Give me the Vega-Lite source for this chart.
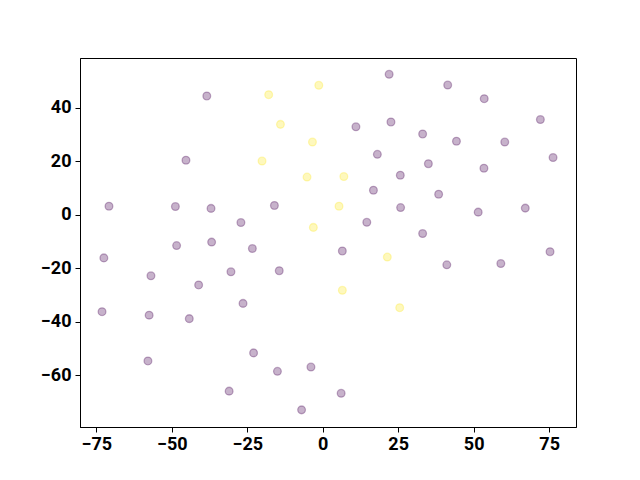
{
  "$schema": "https://vega.github.io/schema/vega-lite/v6.json",
  "width": 496,
  "height": 369,
  "autosize": {"type": "none"},
  "padding": {"left": 80, "top": 58, "right": 64, "bottom": 53},
  "background": "white",
  "config": {"view": {"stroke": "black", "strokeWidth": 1}},
  "data": {"values": [
    {"x": -17.9, "y": 44.9, "c": 1},
    {"x": -1.3, "y": 48.4, "c": 1},
    {"x": -14.0, "y": 33.8, "c": 1},
    {"x": -3.4, "y": 27.2, "c": 1},
    {"x": -20.1, "y": 20.1, "c": 1},
    {"x": -5.2, "y": 14.1, "c": 1},
    {"x": -3.1, "y": -4.7, "c": 1},
    {"x": 7.0, "y": 14.3, "c": 1},
    {"x": 5.4, "y": 3.2, "c": 1},
    {"x": 21.4, "y": -15.8, "c": 1},
    {"x": 6.5, "y": -28.2, "c": 1},
    {"x": 25.5, "y": -34.7, "c": 1},
    {"x": -38.4, "y": 44.4, "c": 0},
    {"x": -45.3, "y": 20.4, "c": 0},
    {"x": -70.8, "y": 3.2, "c": 0},
    {"x": -48.8, "y": 3.1, "c": 0},
    {"x": -37.0, "y": 2.4, "c": 0},
    {"x": -16.0, "y": 3.5, "c": 0},
    {"x": -27.1, "y": -2.9, "c": 0},
    {"x": 22.0, "y": 52.5, "c": 0},
    {"x": 41.4, "y": 48.5, "c": 0},
    {"x": 53.5, "y": 43.4, "c": 0},
    {"x": 72.1, "y": 35.6, "c": 0},
    {"x": 11.0, "y": 32.9, "c": 0},
    {"x": 22.6, "y": 34.7, "c": 0},
    {"x": 33.1, "y": 30.2, "c": 0},
    {"x": 44.3, "y": 27.5, "c": 0},
    {"x": 60.3, "y": 27.2, "c": 0},
    {"x": 18.1, "y": 22.6, "c": 0},
    {"x": 35.0, "y": 19.1, "c": 0},
    {"x": 53.4, "y": 17.4, "c": 0},
    {"x": 76.3, "y": 21.4, "c": 0},
    {"x": 25.7, "y": 14.8, "c": 0},
    {"x": 16.8, "y": 9.2, "c": 0},
    {"x": 38.4, "y": 7.7, "c": 0},
    {"x": 25.8, "y": 2.7, "c": 0},
    {"x": 14.6, "y": -2.8, "c": 0},
    {"x": 33.1, "y": -7.0, "c": 0},
    {"x": 51.5, "y": 1.0, "c": 0},
    {"x": 67.1, "y": 2.5, "c": 0},
    {"x": -48.4, "y": -11.5, "c": 0},
    {"x": -36.8, "y": -10.2, "c": 0},
    {"x": -23.3, "y": -12.6, "c": 0},
    {"x": -72.5, "y": -16.1, "c": 0},
    {"x": -56.9, "y": -22.8, "c": 0},
    {"x": -30.4, "y": -21.3, "c": 0},
    {"x": -14.4, "y": -20.9, "c": 0},
    {"x": -41.1, "y": -26.2, "c": 0},
    {"x": -26.4, "y": -33.1, "c": 0},
    {"x": -73.1, "y": -36.2, "c": 0},
    {"x": -57.5, "y": -37.5, "c": 0},
    {"x": -44.2, "y": -38.8, "c": 0},
    {"x": -22.9, "y": -51.6, "c": 0},
    {"x": -57.9, "y": -54.6, "c": 0},
    {"x": -15.0, "y": -58.5, "c": 0},
    {"x": -3.9, "y": -56.9, "c": 0},
    {"x": -31.0, "y": -65.9, "c": 0},
    {"x": -7.0, "y": -72.9, "c": 0},
    {"x": 6.5, "y": -13.5, "c": 0},
    {"x": 41.1, "y": -18.7, "c": 0},
    {"x": 59.0, "y": -18.2, "c": 0},
    {"x": 75.3, "y": -13.8, "c": 0},
    {"x": 6.1, "y": -66.7, "c": 0}
  ]},
  "mark": {"type": "point", "shape": "circle", "filled": false, "size": 60, "strokeWidth": 1.3, "fillOpacity": 0.3, "strokeOpacity": 0.3},
  "encoding": {
    "x": {"field": "x", "type": "quantitative",
      "scale": {"domain": [-80.4, 83.9], "nice": false, "zero": false},
      "axis": {"values": [-75, -50, -25, 0, 25, 50, 75], "title": null, "grid": false,
        "domainColor": "black", "tickColor": "black", "tickSize": 5, "labelFont": "Roboto",
        "labelFontWeight": "bold", "labelFontSize": 18, "labelColor": "black", "labelPadding": 3}},
    "y": {"field": "y", "type": "quantitative",
      "scale": {"domain": [-79.3, 58.6], "nice": false, "zero": false},
      "axis": {"values": [-60, -40, -20, 0, 20, 40], "title": null, "grid": false,
        "domainColor": "black", "tickColor": "black", "tickSize": 5, "labelFont": "Roboto",
        "labelFontWeight": "bold", "labelFontSize": 18, "labelColor": "black", "labelPadding": 4}},
    "fill": {"field": "c", "type": "nominal", "scale": {"domain": [0, 1], "range": ["#440154", "#fde725"]}, "legend": null},
    "stroke": {"field": "c", "type": "nominal", "scale": {"domain": [0, 1], "range": ["#440154", "#fde725"]}, "legend": null}
  }
}
